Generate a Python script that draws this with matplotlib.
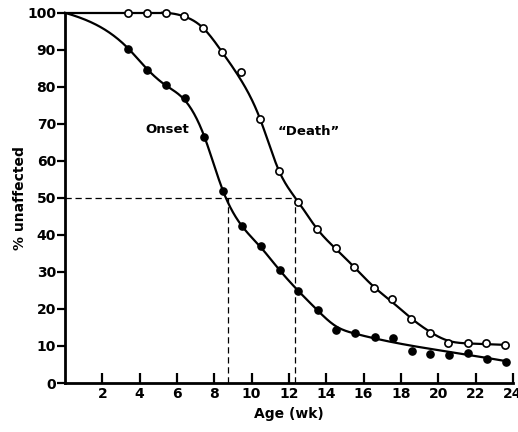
import numpy as np
import matplotlib
matplotlib.use("Agg")
import matplotlib.pyplot as plt

# measured points (age in weeks, % unaffected)
onset_x = [3.4, 4.4, 5.4, 6.45, 7.45, 8.46, 9.5, 10.5, 11.5, 12.5, 13.55, 14.55,
           15.55, 16.6, 17.6, 18.6, 19.55, 20.6, 21.6, 22.6, 23.65]
onset_y = [90.3, 84.6, 80.4, 76.9, 66.5, 51.9, 42.4, 37.1, 30.4, 24.9, 19.7, 14.3,
           13.4, 12.3, 12.2, 8.6, 7.9, 7.7, 8.0, 6.6, 5.8]

death_x = [3.4, 4.4, 5.4, 6.4, 7.4, 8.42, 9.44, 10.45, 11.47, 12.49, 13.5, 14.5,
           15.5, 16.55, 17.55, 18.55, 19.57, 20.55, 21.58, 22.58, 23.58]
death_y = [100, 100, 100, 99.0, 95.9, 89.4, 84.0, 71.4, 57.2, 49.0, 41.6, 36.4,
           31.3, 25.6, 22.6, 17.3, 13.6, 10.7, 10.7, 10.7, 10.2]

# fitted curves as drawn in the figure (knots)
onset_curve_x = [0, 3.4, 4.4, 5.4, 6.4, 7.45, 8.46, 9.5, 10.5, 11.5,
                 12.5, 13.5, 14.5, 15.5, 17, 19, 21, 23.65]
onset_curve_y = [100, 90.3, 84.8, 80.4, 76.5, 66.8, 52.0, 42.3, 36.6,
                 30.5, 24.9, 19.8, 15.4, 13.4, 11.6, 9.7, 8.1, 5.9]
death_curve_x = [0, 5.2, 6.4, 7.4, 8.42, 9.41, 10.45, 11.47, 12.49, 13.5, 14.5,
                 15.5, 16.55, 17.55, 18.55, 19.57, 20.55, 21.58, 22.58, 23.6]
death_curve_y = [100, 100, 99.0, 95.9, 89.4, 82.0, 71.4, 57.3, 49.0, 41.7, 36.3,
                 31.3, 26.0, 21.8, 17.5, 13.8, 11.4, 10.7, 10.5, 10.3]

median_onset = 8.75
median_death = 12.33


def spline(x, y, xs, d0=None):
    # cubic spline through the knots, natural end or fixed start slope
    x = np.asarray(x, float)
    y = np.asarray(y, float)
    n = len(x)
    h = np.diff(x)
    A = np.zeros((n, n))
    r = np.zeros(n)
    for k in range(1, n - 1):
        A[k, k - 1] = h[k - 1]
        A[k, k] = 2 * (h[k - 1] + h[k])
        A[k, k + 1] = h[k]
        r[k] = 6 * ((y[k + 1] - y[k]) / h[k] - (y[k] - y[k - 1]) / h[k - 1])
    if d0 is None:
        A[0, 0] = 1
    else:
        A[0, 0] = 2 * h[0]
        A[0, 1] = h[0]
        r[0] = 6 * ((y[1] - y[0]) / h[0] - d0)
    A[-1, -1] = 1
    M = np.linalg.solve(A, r)
    i = np.clip(np.searchsorted(x, xs) - 1, 0, n - 2)
    a = x[i + 1] - xs
    b = xs - x[i]
    return (M[i] * a**3 / (6 * h[i]) + M[i + 1] * b**3 / (6 * h[i])
            + (y[i] / h[i] - M[i] * h[i] / 6) * a
            + (y[i + 1] / h[i] - M[i + 1] * h[i] / 6) * b)


plt.rcParams['font.family'] = 'DejaVu Sans'
fig = plt.figure(figsize=(5.18, 4.32), dpi=100)
ax = fig.add_axes([0.1255, 0.1134, 0.8645, 0.857])

xs = np.linspace(onset_curve_x[0], onset_curve_x[-1], 500)
ax.plot(xs, spline(onset_curve_x, onset_curve_y, xs, d0=-1.5), color='black',
        lw=1.6, clip_on=False)
# death curve: flat at 100 first, then smooth drop
ax.plot(death_curve_x[:2], death_curve_y[:2], color='black', lw=1.6, clip_on=False)
xs = np.linspace(death_curve_x[1], death_curve_x[-1], 500)
ax.plot(xs, spline(death_curve_x[1:], death_curve_y[1:], xs, d0=0), color='black',
        lw=1.6, clip_on=False)

ax.plot(onset_x, onset_y, 'o', color='black', ms=5.2, clip_on=False, zorder=3)
ax.plot(death_x, death_y, 'o', mfc='white', mec='black', mew=1.2, ms=5.2,
        clip_on=False, zorder=3)

# median lines
ax.plot([0, median_death], [50, 50], color='black', lw=0.9, ls=(0, (5, 3)))
ax.plot([median_onset, median_onset], [0, 50], color='black', lw=0.9, ls=(0, (5, 3)))
ax.plot([median_death, median_death], [0, 50], color='black', lw=0.9, ls=(0, (5, 3)))

ax.text(5.5, 68.4, 'Onset', fontsize=9.5, fontweight='bold', ha='center', va='center')
ax.text(13.05, 67.9, '\u201cDeath\u201d', fontsize=9.5, fontweight='bold',
        ha='center', va='center')

ax.set_xlim(0, 24)
ax.set_ylim(0, 100)
ax.set_xticks(range(2, 25, 2))
ax.set_yticks(range(0, 101, 10))
ax.tick_params(axis='x', direction='in', length=7, width=1.6, labelsize=10, pad=3)
ax.tick_params(axis='y', direction='out', length=6, width=1.6, labelsize=10, pad=0.5)
for lab in ax.get_xticklabels() + ax.get_yticklabels():
    lab.set_fontweight('bold')

for s in ['top', 'right']:
    ax.spines[s].set_visible(False)
for s in ['left', 'bottom']:
    ax.spines[s].set_linewidth(2.0)

ax.set_xlabel('Age (wk)', fontsize=10, fontweight='bold', labelpad=4)
ax.set_ylabel('% unaffected', fontsize=10, fontweight='bold', labelpad=0)

fig.savefig('out.png', dpi=100)
